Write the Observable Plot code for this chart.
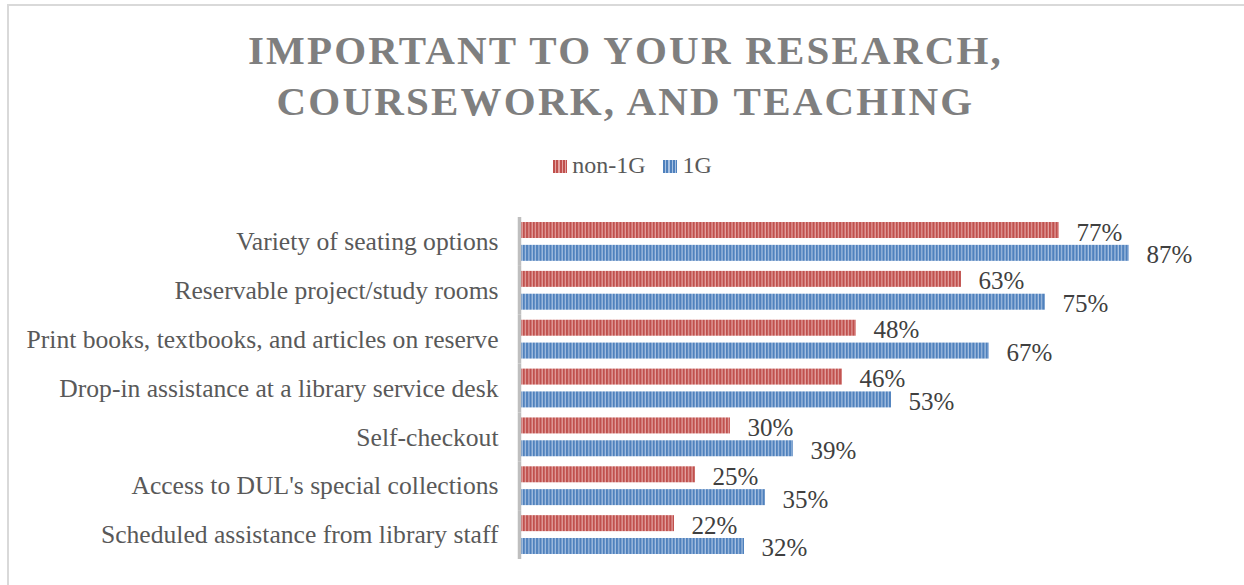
<!DOCTYPE html>
<html>
<head>
<meta charset="utf-8">
<script src="https://cdn.jsdelivr.net/npm/d3@7"></script>
<script src="https://cdn.jsdelivr.net/npm/@observablehq/plot@0.6"></script>
<style>
  body { margin: 0; background: #fff; }
  #wrap { position: relative; width: 1244px; height: 585px; overflow: hidden; font-family: "Liberation Serif", serif; }
  #frame { position: absolute; left: 7px; top: 4px; width: 1240px; height: 590px; border-left: 2px solid #d9d9d9; border-top: 2px solid #d9d9d9; box-sizing: border-box; }
  #title { position: absolute; left: 7px; width: 1237px; top: 25px; text-align: center; font-weight: bold; font-size: 41px; line-height: 51px; letter-spacing: 2.2px; color: #7f7f7f; }
  #legend { position: absolute; left: 7px; width: 1237px; top: 151px; padding-left: 14px; box-sizing: border-box; text-align: center; font-size: 24px; color: #595959; line-height: 28px; white-space: nowrap; }
  .sw { display: inline-block; width: 14px; height: 13px; vertical-align: 0px; margin-right: 5px; }
  .item { margin: 0 9px; }
  #chart { position: absolute; left: 0; top: 0; }
</style>
</head>
<body>
<svg width="0" height="0" style="position:absolute">
  <defs>
    <pattern id="pRed" patternUnits="userSpaceOnUse" width="3.33" height="10">
      <rect width="3.33" height="10" fill="#e3a3a1"></rect>
      <rect width="2.1" height="10" fill="#c0504d"></rect>
    </pattern>
    <pattern id="pBlue" patternUnits="userSpaceOnUse" width="3.33" height="10">
      <rect width="3.33" height="10" fill="#a9c2e2"></rect>
      <rect width="2.1" height="10" fill="#4f81bd"></rect>
    </pattern>
  </defs>
</svg>
<div id="wrap">
  <div id="chart"></div>
  <div id="frame"></div>
  <div id="title">IMPORTANT TO YOUR RESEARCH,<br>COURSEWORK, AND TEACHING</div>
  <div id="legend"></div>
</div>
<script>
const categories = [
  "Variety of seating options",
  "Reservable project/study rooms",
  "Print books, textbooks, and articles on reserve",
  "Drop-in assistance at a library service desk",
  "Self-checkout",
  "Access to DUL's special collections",
  "Scheduled assistance from library staff"
];
const seriesNames = ["non-1G", "1G"];
const non1G = [77, 63, 48, 46, 30, 25, 22];
const oneG = [87, 75, 67, 53, 39, 35, 32];
const seriesFills = ["url(#pRed)", "url(#pBlue)"];
const swatchCss = [
  "repeating-linear-gradient(90deg, #c0504d 0 2.1px, #e3a3a1 2.1px 3.33px)",
  "repeating-linear-gradient(90deg, #4f81bd 0 2.1px, #a9c2e2 2.1px 3.33px)"
];

const data = [];
categories.forEach((c, i) => {
  data.push({category: c, series: seriesNames[0], value: non1G[i]});
  data.push({category: c, series: seriesNames[1], value: oneG[i]});
});

const plot = Plot.plot({
  width: 1244,
  height: 585,
  marginTop: 217,
  marginBottom: 26,
  marginLeft: 520,
  marginRight: 24,
  style: {fontFamily: "'Liberation Serif', serif", background: "transparent"},
  x: {domain: [0, 100], axis: null},
  y: {domain: seriesNames, axis: null, paddingInner: 0.3, paddingOuter: 0.22, round: false},
  fy: {domain: categories, padding: 0, label: null, round: false},
  color: {domain: seriesNames, range: seriesFills},
  marks: [
    Plot.barX(data, {fy: "category", y: "series", x: "value", fill: "series"}),
    Plot.ruleX([0], {stroke: "#bfbfbf", strokeWidth: 3.5, dx: -1}),
    Plot.text(data, {fy: "category", y: "series", x: "value", text: d => d.value + "%", textAnchor: "start", dx: 17, dy: 2, fontSize: 25, fill: "#404040"}),
    Plot.axisFy({anchor: "left", tickSize: 0, tickPadding: 22, fontSize: 25.6, color: "#595959", label: null})
  ]
});
document.getElementById("chart").appendChild(plot);

const legend = document.getElementById("legend");
seriesNames.forEach((s, i) => {
  const span = document.createElement("span");
  span.className = "item";
  const sw = document.createElement("span");
  sw.className = "sw";
  sw.style.background = swatchCss[i];
  span.appendChild(sw);
  span.appendChild(document.createTextNode(s));
  legend.appendChild(span);
});
</script>
</body>
</html>
